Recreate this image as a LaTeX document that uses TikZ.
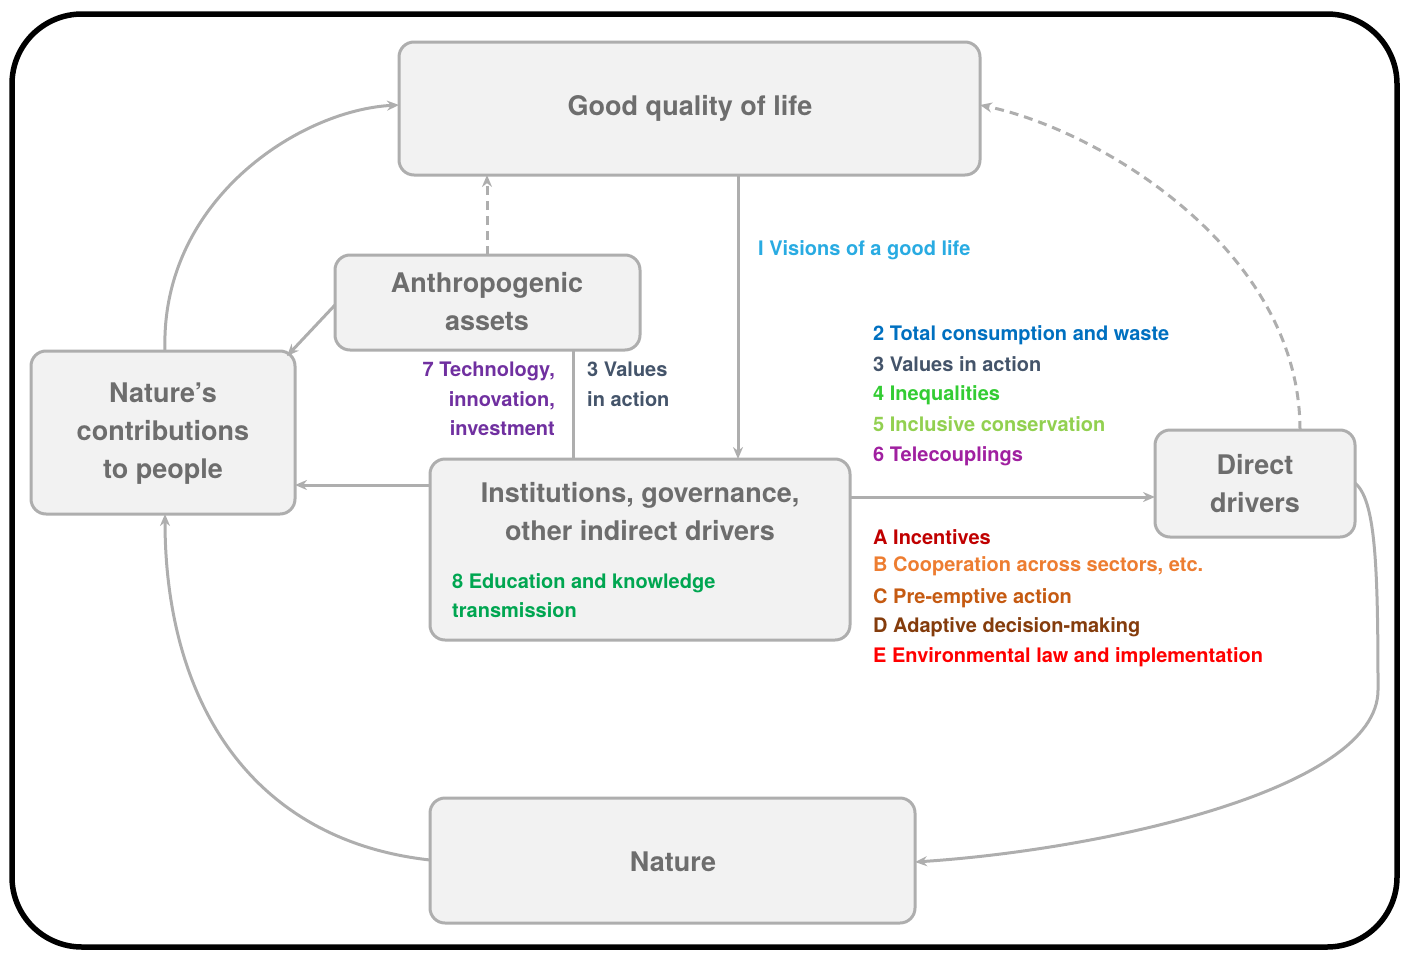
\documentclass[tikz,border=0pt]{standalone}
\usepackage{fontspec}
\setmainfont{TeX Gyre Heros}
\usetikzlibrary{arrows.meta}
\definecolor{bx}{HTML}{F2F2F2}
\definecolor{ln}{HTML}{AEAEAE}
\definecolor{tx}{HTML}{6D6D6D}
\definecolor{cA}{HTML}{29ABE2}
\definecolor{c2}{HTML}{0070C0}
\definecolor{c3}{HTML}{44546A}
\definecolor{c4}{HTML}{33CC33}
\definecolor{c5}{HTML}{92D050}
\definecolor{c6}{HTML}{A020A0}
\definecolor{c7}{HTML}{7030A0}
\definecolor{c8}{HTML}{00A651}
\definecolor{cAa}{HTML}{C00000}
\definecolor{cB}{HTML}{ED7D31}
\definecolor{cC}{HTML}{C55A11}
\definecolor{cD}{HTML}{843C0C}
\definecolor{cE}{HTML}{FF0000}
\begin{document}
\begin{tikzpicture}[x=1pt,y=-1pt,
 box/.style={draw=ln,fill=bx,line width=3pt,rounded corners=15pt},
 ttl/.style={text=tx,font=\bfseries\fontsize{27}{38}\selectfont,align=center},
 lab/.style={font=\bfseries\fontsize{20}{29.5}\selectfont,anchor=west,inner sep=0},
 con/.style={draw=ln,line width=3pt,-{Stealth[length=12pt,width=10pt]}},
 dsh/.style={dash pattern=on 9pt off 6pt}]
\useasboundingbox (0,0) rectangle (1410,953);
\draw[line width=5.5pt,rounded corners=70pt] (12,14) rectangle (1397,947);
\draw[box] (399,42) rectangle (980,175);
\draw[box] (335,255) rectangle (640,350);
\draw[box] (31,351) rectangle (295,514);
\draw[box] (430,459) rectangle (850,640);
\draw[box] (1155,430) rectangle (1355,537);
\draw[box] (430,798) rectangle (915,923);
\node[ttl] (gql) at (690,108) {Good quality of life};
\node[ttl] (aa) at (487,302) {Anthropogenic\\assets};
\node[ttl] (ncp) at (163,434) {Nature’s\\contributions\\to people};
\node[ttl] (inst) at (640,512) {Institutions, governance,\\other indirect drivers};
\node[ttl] (dd) at (1255,484) {Direct\\drivers};
\node[ttl] (nat) at (673,862) {Nature};
\coordinate (p1) at (165,351); \coordinate (p2) at (399,105);
\draw[con] (p1) .. controls (160,200) and (300,110) .. (p2);
\draw[con,dsh] (487,255) -- (487,175);
\draw[con] (335,305) -- (287,356);
\draw[draw=ln,line width=3pt] (573,350) -- (573,459);
\draw[con] (738,175) -- (738,459);
\draw[con] (430,485) -- (295,485);
\draw[con] (850,497) -- (1155,497);
\draw[con,dsh] (1300,430) .. controls (1300,250) and (1100,130) .. (980,105);
\draw[con] (1355,483) .. controls (1375,500) and (1378,560) .. (1378,690) .. controls (1378,790) and (1100,850) .. (915,862);
\draw[con] (430,860) .. controls (250,840) and (165,700) .. (165,514);
\node[lab,text=cA] (l1) at (758,250) {I Visions of a good life};
\node[lab,text=c2] (l2) at (873,335) {2 Total consumption and waste};
\node[lab,text=c3] (l3) at (873,364) {3 Values in action};
\node[lab,text=c4] (l4) at (873,395) {4 Inequalities};
\node[lab,text=c5] (l5) at (873,424) {5 Inclusive conservation};
\node[lab,text=c6] (l6) at (873,456) {6 Telecouplings};
\node[lab,text=cAa] (la) at (873,537) {A Incentives};
\node[lab,text=cB] (lb) at (873,566) {B Cooperation across sectors, etc.};
\node[lab,text=cC] (lc) at (873,598) {C Pre-emptive action};
\node[lab,text=cD] (ld) at (873,627) {D Adaptive decision-making};
\node[lab,text=cE] (le) at (873,657) {E Environmental law and implementation};
\node[lab,text=c7,anchor=north east,align=right] (l7) at (555,362) {7 Technology,\\innovation,\\investment};
\node[lab,text=c3,anchor=north west,align=left] (l3b) at (587,362) {3 Values\\in action};
\node[lab,text=c8,anchor=north west,align=left] (l8) at (452,573) {8 Education and knowledge\\transmission};
\end{tikzpicture}
\end{document}
